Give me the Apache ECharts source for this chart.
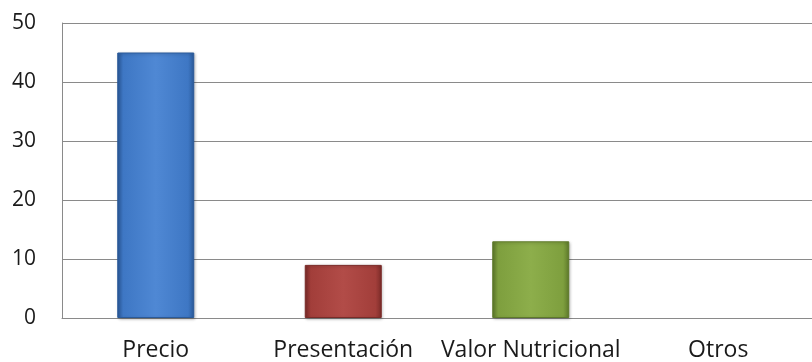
<!DOCTYPE html>
<html>
<head>
<meta charset="utf-8">
<script src="https://cdn.jsdelivr.net/npm/echarts@6/dist/echarts.min.js"></script>
<style>
  html, body { margin: 0; padding: 0; background: #ffffff; }
  #chart { width: 812px; height: 362px; }
</style>
</head>
<body>
<div id="chart"></div>
<script>
const categories = ['Precio', 'Presentación', 'Valor Nutricional', 'Otros'];
const values = [45, 9, 13, 0];
const yTicks = [0, 10, 20, 30, 40, 50];

// base, light and dark tones for each bar
const palette = [
  { base: '#3E77C4', light: '#4F88D4', dark: '#2A5A9A' },
  { base: '#A23E3A', light: '#B24C48', dark: '#7B2B28' },
  { base: '#7E9F3E', light: '#8DAE4B', dark: '#5E7A2A' }
];

function bevel(c) {
  return new echarts.graphic.LinearGradient(0, 0, 1, 0, [
    { offset: 0, color: c.dark },
    { offset: 0.08, color: c.base },
    { offset: 0.5, color: c.light },
    { offset: 0.92, color: c.base },
    { offset: 1, color: c.dark }
  ]);
}

const chart = echarts.init(document.getElementById('chart'));
chart.setOption({
  animation: false,
  grid: { left: 62, top: 23, width: 762, height: 295, containLabel: false },
  xAxis: {
    type: 'category',
    data: categories,
    axisLine: { show: true, lineStyle: { color: '#8a8a8a', width: 1 } },
    axisTick: { show: false },
    axisLabel: {
      margin: 21,
      fontFamily: '"Open Sans", sans-serif',
      fontSize: 23,
      color: '#1a1a1a',
      interval: 0
    }
  },
  yAxis: {
    type: 'value',
    min: yTicks[0],
    max: yTicks[yTicks.length - 1],
    interval: 10,
    axisLine: { show: true, lineStyle: { color: '#8a8a8a', width: 1 } },
    axisTick: { show: false },
    splitLine: { show: true, lineStyle: { color: '#8a8a8a', width: 1 } },
    axisLabel: {
      margin: 26,
      fontFamily: '"Open Sans", sans-serif',
      fontSize: 21,
      color: '#1a1a1a'
    }
  },
  series: [{
    type: 'bar',
    barWidth: 77,
    data: values.map((v, i) => {
      const c = palette[i % palette.length];
      return {
        value: v,
        itemStyle: {
          color: bevel(c),
          borderColor: c.dark,
          borderWidth: v > 0 ? 1 : 0,
          shadowColor: v > 0 ? 'rgba(0,0,0,0.25)' : 'transparent',
          shadowBlur: 3,
          shadowOffsetX: 1,
          shadowOffsetY: 1
        }
      };
    })
  }]
});
</script>
</body>
</html>
